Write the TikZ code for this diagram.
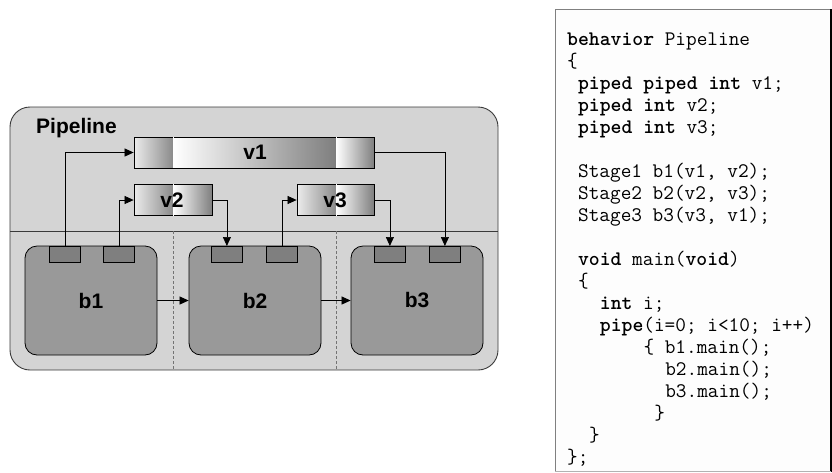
\documentclass[tikz,border=0pt]{standalone}
\usepackage{fontspec}
\setmainfont{Liberation Sans}
\usetikzlibrary{arrows.meta}
\definecolor{outerfill}{HTML}{D4D4D4}
\definecolor{outerline}{HTML}{3A3A3A}
\definecolor{blockfill}{HTML}{999999}
\definecolor{portfill}{HTML}{7F7F7F}
\definecolor{segdark}{HTML}{8A8A8A}
\definecolor{codefill}{HTML}{FDFDFD}
\newlength\tw
\setlength\tw{10.9pt}
\tikzset{
  labelfont/.style={font=\fontsize{21}{24}\selectfont\bfseries},
  blockbox/.style={draw=black, fill=blockfill, rounded corners=12pt, minimum width=132pt, minimum height=109pt, inner sep=0pt, line width=0.8pt, labelfont},
  portbox/.style={draw=black, fill=portfill, minimum width=31pt, minimum height=16pt, inner sep=0pt, line width=0.8pt, anchor=north west},
  seg/.style={left color=white!92!black, right color=segdark, draw=none, minimum height=31pt, inner sep=0pt, anchor=west},
  segw/.style={left color=white, right color=segdark!110, draw=none, minimum height=31pt, inner sep=0pt, anchor=west},
  varbox/.style={draw=black, line width=0.8pt, minimum height=31pt, inner sep=0pt},
  arr/.style={-{Triangle[length=9pt,width=8pt]}, line width=0.7pt, black},
  cline/.style={anchor=base west, inner sep=0pt, font=\ttfamily\fontsize{20.7}{22}\selectfont},
  divdash/.style={draw=gray!90!black, dash pattern=on 3pt off 2pt, line width=0.8pt},
  vdash/.style={draw=white, dash pattern=on 3pt off 2pt, line width=0.8pt}
}
\begin{document}
\begin{tikzpicture}[x=1pt,y=-1pt]
\useasboundingbox (0,0) rectangle (832,472);
% outer container
\draw[draw=outerline, fill=outerfill, rounded corners=20pt, line width=0.9pt] (10,107) rectangle (498,370);
\coordinate (dl) at (10,231);
\coordinate (dr) at (498,231);
\draw[outerline, line width=0.8pt] (dl) -- (dr);
\coordinate (d1t) at (173,231);
\coordinate (d1b) at (173,370);
\coordinate (d2t) at (336,231);
\coordinate (d2b) at (336,370);
\draw[divdash] (d1t) -- (d1b);
\draw[divdash] (d2t) -- (d2b);
\node[anchor=base west, inner sep=0pt, labelfont] (title) at (36,133) {Pipeline};

% variable v1
\node[seg, minimum width=39pt] (v1a) at (134,152.5) {};
\node[segw, minimum width=163pt] (v1b) at (173,152.5) {};
\node[segw, minimum width=38pt] (v1c) at (336,152.5) {};
\node[varbox, minimum width=240pt] (v1) at (254,152.5) {};
\draw[vdash] (v1a.north east) -- (v1a.south east);
\draw[vdash] (v1b.north east) -- (v1b.south east);
\node[labelfont, inner sep=0pt] (v1t) at (255,152.5) {v1};

% variable v2
\node[seg, minimum width=39pt] (v2a) at (134,200) {};
\node[segw, minimum width=39pt] (v2b) at (173,200) {};
\node[varbox, minimum width=78pt] (v2) at (173,200) {};
\draw[vdash] (v2a.north east) -- (v2a.south east);
\node[labelfont, inner sep=0pt] (v2t) at (172,200) {v2};

% variable v3
\node[seg, minimum width=39pt] (v3a) at (297,200) {};
\node[segw, minimum width=38pt] (v3b) at (336,200) {};
\node[varbox, minimum width=77pt] (v3) at (335.5,200) {};
\draw[vdash] (v3a.north east) -- (v3a.south east);
\node[labelfont, inner sep=0pt] (v3t) at (335,200) {v3};

% blocks
\node[blockbox] (b1) at (91,300.5) {b1};
\node[blockbox] (b2) at (255,300.5) {b2};
\node[blockbox] (b3) at (417,300.5) {b3};

% ports
\node[portbox] (p11) at (49,246) {};
\node[portbox] (p12) at (103,246) {};
\node[portbox] (p21) at (211,246) {};
\node[portbox] (p22) at (266,246) {};
\node[portbox] (p31) at (374,246) {};
\node[portbox] (p32) at (429,246) {};

% connectors
\draw[arr] (p11.north) |- (v1.west);
\draw[arr] (p12.north) |- (v2.west);
\draw[arr] (v2.east) -| (p21.north);
\draw[arr] (p22.north) |- (v3.west);
\draw[arr] (v3.east) -| (p31.north);
\draw[arr] (v1.east) -| (p32.north);
\draw[arr] (b1.east) -- (b2.west);
\draw[arr] (b2.east) -- (b3.west);

% code box
\node[draw=gray, fill=codefill, line width=0.8pt, minimum width=275pt, minimum height=462pt, inner sep=0pt, anchor=north west] (code) at (555,9) {};
\draw[black, line width=1.6pt] (code.north east) -- (code.south east);
\draw[gray!60, line width=1pt] (code.south west) -- (code.south east);

\node[cline] (c0) at (567,45) {\textbf{behavior} Pipeline};
\node[cline] (c1) at (567,67) {\{};
\node[cline] (c2) at (567,89) {\hspace*{1\tw}\textbf{piped piped int} v1;};
\node[cline] (c3) at (567,111) {\hspace*{1\tw}\textbf{piped int} v2;};
\node[cline] (c4) at (567,133) {\hspace*{1\tw}\textbf{piped int} v3;};
\node[cline] (c6) at (567,177) {\hspace*{1\tw}Stage1 b1(v1, v2);};
\node[cline] (c7) at (567,199) {\hspace*{1\tw}Stage2 b2(v2, v3);};
\node[cline] (c8) at (567,221) {\hspace*{1\tw}Stage3 b3(v3, v1);};
\node[cline] (c10) at (567,265) {\hspace*{1\tw}\textbf{void} main(\textbf{void})};
\node[cline] (c11) at (567,287) {\hspace*{1\tw}\{};
\node[cline] (c12) at (567,309) {\hspace*{3\tw}\textbf{int} i;};
\node[cline] (c13) at (567,331) {\hspace*{3\tw}\textbf{pipe}(i=0; i<10; i++)};
\node[cline] (c14) at (567,353) {\hspace*{7\tw}\{ b1.main();};
\node[cline] (c15) at (567,375) {\hspace*{9\tw}b2.main();};
\node[cline] (c16) at (567,397) {\hspace*{9\tw}b3.main();};
\node[cline] (c17) at (567,419) {\hspace*{8\tw}\}};
\node[cline] (c18) at (567,441) {\hspace*{2\tw}\}};
\node[cline] (c19) at (567,463) {\};};
\end{tikzpicture}
\end{document}
